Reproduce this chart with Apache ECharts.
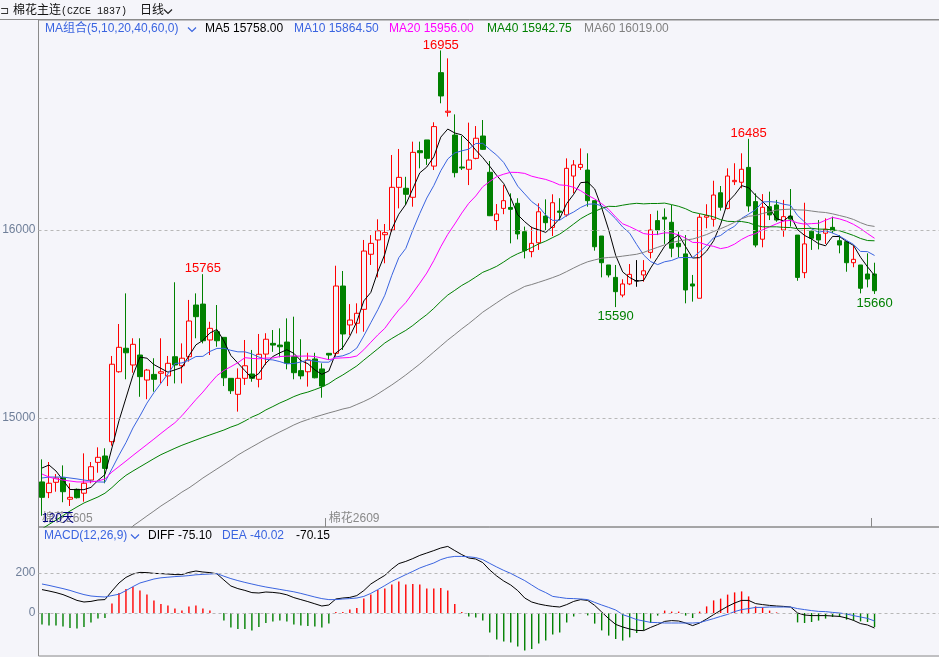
<!DOCTYPE html>
<html>
<head>
<meta charset="utf-8">
<script src="https://cdn.jsdelivr.net/npm/echarts/dist/echarts.min.js"></script>
<style>
html,body{margin:0;padding:0;background:#f5f5fa;}
#c{width:939px;height:657px;}
</style>
</head>
<body>
<div id="c"></div>
<script>
// ---------- DATA ----------
const opens = [14660,14603,14658,14682,14568,14621,14600,14670,14764,14798,
 14874,15246,15371,15282,15335,15202,15232,15238,15224,15326,
 15278,15326,15601,15606,15415,15459,15429,15211,15126,15211,
 15234,15206,15340,15397,15388,15404,15326,15252,15246,15314,
 15261,15344,15344,15702,15495,15504,15578,15871,15947,15975,
 16000,16227,16222,16174,16422,16479,16340,16837,16626,16505,
 16335,16323,16381,16500,16307,16050,16115,16120,16142,15991,
 15885,15932,16074,16014,16101,16080,16287,16333,16319,16156,
 15968,15814,15748,15654,15713,15730,15761,15881,16050,16068,
 16041,15929,15873,15713,15637,16068,16057,16198,16115,16257,
 16254,16333,16151,15951,16124,16133,16000,16074,15973,15773,
 15994,15977,15983,16014,15943,15938,15826,15814,15766,15766];
const closes = [14578,14653,14681,14608,14578,14576,14653,14741,14791,14732,
 15286,15376,15347,15392,15220,15255,15206,15246,15291,15282,
 15318,15516,15539,15411,15477,15411,15214,15145,15211,15278,
 15211,15339,15419,15388,15379,15291,15241,15224,15309,15214,
 15170,15335,15702,15447,15521,15557,15888,15929,15996,15986,
 16227,16280,16190,16413,16411,16381,16550,16713,16632,16305,
 16330,16372,16488,16429,16076,16085,16156,16110,15979,15890,
 15929,16097,16039,16145,16094,16328,16346,16349,16156,15911,
 15826,15761,15672,15713,15764,15730,15783,16000,16000,16058,
 15903,15911,15681,15702,16068,16076,16186,16121,16287,16264,
 16323,16128,15920,16121,16080,16053,16071,16058,15748,15926,
 15956,15947,16004,15996,15920,15826,15844,15690,15739,15677];
const lows = [14480,14574,14608,14552,14532,14572,14555,14653,14709,14653,
 14853,15241,15206,15241,15113,15100,15140,15184,15170,15184,
 15184,15300,15424,15397,15335,15379,15170,15128,15034,15176,
 15193,15163,15282,15352,15323,15259,15206,15206,15167,15211,
 15108,15309,15326,15362,15441,15450,15459,15814,15748,15823,
 15991,16115,16133,16124,16328,16346,16319,16674,16603,16280,
 16319,16239,16376,16426,16074,15996,16084,15929,15950,15849,
 15855,15894,16000,15968,16053,16071,16195,16319,16124,15890,
 15748,15748,15590,15642,15707,15698,15725,15849,15973,15926,
 15855,15855,15610,15619,15637,16009,16018,16103,16110,16239,
 16222,16097,15908,15908,16053,16044,15964,16018,15730,15744,
 15894,15897,15926,15983,15876,15778,15802,15663,15695,15660];
const highs = [14780,14766,14702,14748,14653,14625,14812,14766,14844,14839,
 15330,15500,15663,15424,15424,15261,15318,15424,15330,15722,
 15397,15628,15663,15765,15512,15601,15429,15211,15264,15415,
 15362,15447,15451,15468,15477,15530,15539,15419,15347,15347,
 15291,15346,15810,15782,15606,15610,15947,15973,16057,16032,
 16399,16431,16283,16470,16470,16479,16573,16955,16913,16615,
 16500,16571,16553,16585,16367,16138,16239,16195,16169,16018,
 16018,16142,16163,16190,16169,16381,16372,16434,16408,16156,
 15968,15814,15814,15738,15819,15840,15840,16085,16103,16115,
 16133,15991,15973,15761,16085,16137,16262,16234,16328,16355,
 16408,16485,16195,16191,16204,16160,16160,16218,15973,16145,
 15996,16053,16062,16071,15973,15938,15915,15814,15876,15826];

const ma5 = [14734,14750,14718,14670,14620,14619,14619,14631,14668,14699,
 14841,14985,15106,15227,15324,15318,15284,15264,15244,15256,
 15269,15331,15389,15413,15452,15471,15410,15332,15292,15252,
 15212,15237,15292,15327,15347,15363,15344,15305,15289,15256,
 15232,15250,15346,15374,15435,15512,15623,15668,15778,15871,
 16005,16084,16136,16219,16304,16335,16389,16494,16537,16516,
 16506,16470,16425,16385,16339,16290,16247,16171,16081,16044,
 16013,16001,15987,16020,16061,16141,16190,16252,16255,16218,
 16118,16001,15865,15777,15747,15728,15732,15798,15855,15914,
 15949,15974,15911,15851,15853,15888,15943,16031,16148,16187,
 16236,16225,16184,16151,16114,16060,16049,16077,16002,15971,
 15952,15927,15916,15966,15965,15939,15918,15855,15804,15758];
const ma10 = [14681,14686,14686,14686,14681,14676,14670,14665,14660,14659,
 14730,14802,14869,14947,15011,15079,15135,15185,15235,15290,
 15293,15307,15327,15328,15354,15370,15371,15360,15352,15352,
 15341,15324,15312,15309,15300,15288,15290,15298,15308,15302,
 15297,15297,15325,15331,15345,15372,15437,15507,15576,15653,
 15759,15853,15902,15999,16088,16170,16236,16315,16378,16410,
 16421,16430,16460,16461,16428,16398,16359,16298,16233,16192,
 16151,16124,16079,16051,16052,16077,16096,16120,16137,16139,
 16129,16096,16059,16016,15983,15923,15867,15832,15816,15831,
 15838,15853,15854,15853,15884,15918,15959,15971,15999,16020,
 16062,16084,16108,16149,16151,16148,16137,16131,16077,16043,
 16006,15988,15996,15984,15968,15945,15923,15886,15885,15864.5];
const ma20 = [14702,14686,14676,14670,14665,14660,14660,14660,14665,14676,
 14713,14742,14771,14801,14830,14859,14888,14918,14947,14975,
 15012,15055,15098,15138,15183,15225,15253,15273,15294,15321,
 15317,15315,15319,15319,15327,15329,15330,15329,15330,15327,
 15319,15310,15318,15320,15322,15330,15363,15403,15442,15477,
 15528,15575,15614,15665,15717,15771,15837,15911,15977,16032,
 16090,16142,16181,16230,16258,16284,16297,16307,16306,16301,
 16286,16277,16269,16256,16240,16237,16227,16209,16185,16165,
 16140,16110,16069,16033,16018,16000,15981,15976,15977,15985,
 15984,15974,15957,15934,15933,15921,15913,15901,15908,15925,
 15950,15969,15981,16001,16017,16033,16048,16051,16038,16031,
 16034,16036,16052,16067,16059,16047,16030,16008,15981,15956];
const ma40 = [14410,14434,14457,14481,14505,14527,14548,14564,14580,14600,
 14630,14665,14695,14718,14740,14762,14784,14805,14822,14839,
 14855,14869,14883,14897,14910,14923,14936,14952,14965,14984,
 15005,15021,15043,15061,15080,15096,15114,15128,15138,15151,
 15165,15183,15208,15229,15253,15277,15308,15338,15368,15399,
 15423,15445,15466,15492,15522,15550,15583,15620,15654,15679,
 15705,15726,15750,15775,15790,15807,15830,15855,15874,15889,
 15907,15926,15941,15960,15978,16004,16032,16060,16081,16099,
 16115,16126,16125,16132,16138,16142,16139,16141,16141,16143,
 16135,16126,16113,16095,16087,16079,16070,16055,16046,16045,
 16045,16039,16025,16017,16017,16017,16014,16013,16007,16008,
 16009,16005,16004,16001,15996,15984,15971,15955,15944,15942.75];
const ma60 = ['-','-','-','-','-','-','-','-','-','-',
 '-','-',14383,14426,14452,14479,14505,14532,14556,14580,
 14606,14628,14654,14681,14705,14729,14753,14777,14803,14825,
 14846,14867,14888,14907,14926,14944,14963,14979,14992,15005,
 15016,15027,15037,15048,15056,15072,15088,15106,15128,15152,
 15176,15202,15229,15258,15287,15319,15351,15383,15415,15444,
 15474,15502,15532,15563,15588,15613,15638,15661,15680,15700,
 15710,15722,15734,15747,15761,15779,15798,15816,15831,15841,
 15850,15854,15856,15861,15866,15871,15881,15895,15908,15921,
 15933,15942,15947,15952,15963,15976,15992,16007,16023,16041,
 16060,16073,16077,16088,16097,16106,16109,16111,16107,16106,
 16101,16096,16093,16086,16077,16068,16056,16039,16025,16019];

const diff = [117,110,102,92,78,63,55,58,65,67,
 110,150,178,195,203,202,198,197,195,192,
 192,203,210,205,202,196,165,135,122,113,
 102,100,105,103,99,91,77,67,57,46,
 35,40,70,75,78,87,112,145,167,188,
 220,247,258,272,288,300,312,325,333,312,
 292,275,270,252,215,185,160,140,112,75,
 55,45,38,33,30,42,58,67,63,38,
 5,-28,-57,-70,-80,-87,-88,-72,-58,-42,
 -38,-40,-50,-63,-50,-30,-8,13,33,50,
 63,63,47,42,38,35,33,30,0,-10,
 -13,-13,-13,-15,-17,-25,-37,-53,-60,-75.10];
const dea = [145,138,130,122,113,102,92,85,82,80,
 87,94,112,132,150,160,170,176,179,182,
 184,187,191,193,195,197,184,172,162,153,
 145,137,130,124,118,112,106,98,89,80,
 72,67,67,70,72,75,83,98,117,137,
 158,175,192,208,225,238,250,267,278,283,
 283,281,277,267,248,230,213,198,180,162,
 140,118,102,83,78,73,72,70,67,53,
 40,28,15,-8,-20,-33,-40,-47,-48,-50,
 -50,-50,-50,-50,-48,-38,-28,-17,-7,7,
 17,22,28,28,30,30,30,30,22,17,
 12,8,7,3,0,-5,-13,-20,-27,-40.02];
const macdHist = [-58,-63,-63,-67,-75,-78,-70,-47,-28,-25,
 47,100,120,130,112,92,62,45,37,22,
 12,32,37,22,12,0,-37,-72,-80,-80,
 -87,-70,-50,-42,-37,-42,-58,-62,-65,-67,
 -72,-53,5,5,17,25,72,92,115,123,
 142,158,142,145,142,122,122,125,112,45,
 5,-17,-22,-38,-97,-133,-142,-147,-167,-187,
 -180,-153,-137,-108,-97,-47,-17,0,-12,-53,
 -87,-113,-130,-138,-122,-100,-87,-50,-13,12,
 7,7,-13,-25,7,33,63,72,92,103,
 108,83,33,28,12,3,0,-5,-47,-50,
 -45,-38,-28,-20,-20,-33,-38,-42,-45,-70.15];

const priceTicks = [15000, 16000];
const macdTicks = [0, 200];
const contractLabels = {0: '棉花2605', 41: '棉花2609'};
const markerTicks = [41, 119];
const markIdx  = [23, 57, 101, 82, 119];
const markVal  = [15765, 16955, 16485, 15590, 15660];
const markSide = ['top', 'top', 'top', 'bottom', 'bottom'];

// ---------- CHART ----------
const days = opens.map((_, i) => 'D' + (i + 1));
const FONT = '"Liberation Sans","Noto Sans CJK SC",sans-serif';
const BG = '#f5f5fa';
const RED = '#ff0000', GREEN = '#008000', BLUE = '#3a64e0', MAG = '#ff00ff', GRAY = '#808080';
const candles = opens.map((o, i) => [o, closes[i], lows[i], highs[i]]);

function txt(text, x, y, color, size, family) {
  return {type: 'text', x: x, y: y, silent: true, z: 100,
    style: {text: text, fill: color, font: size + 'px ' + (family || FONT),
      verticalAlign: 'middle', textVerticalAlign: 'middle', align: 'left'}};
}
function chevron(x, y, color) {
  return {type: 'polyline', silent: true, z: 100,
    shape: {points: [[x, y - 2.5], [x + 4, y + 1.5], [x + 8, y - 2.5]]},
    style: {stroke: color, lineWidth: 1.2, fill: null}};
}
const f2 = v => Number(v).toFixed(2);
const lineS = (name, data, color) => ({
  name: name, type: 'line', xAxisIndex: 0, yAxisIndex: 0, data: data,
  symbol: 'none', silent: true, z: 3, lineStyle: {color: color, width: 1}, itemStyle: {color: color}
});

const chart = echarts.init(document.getElementById('c'));
chart.setOption({
  backgroundColor: BG,
  animation: false,
  grid: [
    {left: 38.5, right: -2, top: 20, height: 507, show: true, borderColor: '#8a8a8a', borderWidth: 1,
      backgroundColor: 'transparent', containLabel: false, outerBoundsMode: 'none'},
    {left: 38.5, right: -2, top: 527, height: 129, show: true, borderColor: '#8a8a8a', borderWidth: 1,
      backgroundColor: 'transparent', containLabel: false, outerBoundsMode: 'none'}
  ],
  xAxis: [
    {type: 'category', gridIndex: 0, data: days, max: 128, boundaryGap: true,
      axisLine: {show: false},
      axisTick: {show: true, inside: true, length: 9, interval: (i) => markerTicks.includes(i),
        lineStyle: {color: '#888'}},
      axisLabel: {show: true, inside: true, margin: 2, align: 'left', color: '#8a8a8a', fontSize: 12,
        fontFamily: FONT, interval: (i) => (i in contractLabels),
        formatter: (v, i) => contractLabels[i] || ''},
      splitLine: {show: false}},
    {type: 'category', gridIndex: 1, data: days, max: 128, boundaryGap: true,
      axisLine: {show: false},
      axisTick: {show: true, inside: true, length: 9, interval: (i) => i === 119,
        lineStyle: {color: '#888'}},
      axisLabel: {show: false}, splitLine: {show: false}}
  ],
  yAxis: [
    {type: 'value', gridIndex: 0, min: 14420.3, max: 17117,
      axisLine: {show: false}, axisTick: {show: false}, splitLine: {show: false},
      axisLabel: {color: '#6f7f99', fontSize: 12, fontFamily: FONT, margin: 3,
        formatter: v => priceTicks.includes(v) ? String(v) : ''}},
    {type: 'value', gridIndex: 1, min: -215, max: 430,
      axisLine: {show: false}, axisTick: {show: false}, splitLine: {show: false},
      axisLabel: {color: '#6f7f99', fontSize: 12, fontFamily: FONT, margin: 3,
        formatter: v => macdTicks.includes(v) ? String(v) : ''}}
  ],
  series: [
    {name: 'K', type: 'candlestick', xAxisIndex: 0, yAxisIndex: 0, data: candles,
      barWidth: 5, silent: true, z: 2,
      itemStyle: {color: BG, color0: GREEN, borderColor: RED, borderColor0: GREEN,
        borderColorDoji: '#000000', borderWidth: 1},
      markLine: {silent: true, symbol: ['none', 'none'], label: {show: false}, animation: false,
        lineStyle: {color: '#b8b8b8', type: [3, 3], width: 1},
        data: priceTicks.map(v => ({yAxis: v}))},
      markPoint: {symbol: 'circle', symbolSize: 0, silent: true, animation: false,
        data: markIdx.map((ix, k) => ({
          coord: [ix, markVal[k]], value: markVal[k],
          label: {show: true, position: markSide[k], distance: markSide[k] === 'top' ? -1 : 3,
            color: markSide[k] === 'top' ? RED : GREEN, fontSize: 13, fontFamily: FONT,
            formatter: String(markVal[k])}
        }))}
    },
    lineS('MA5', ma5, '#000000'),
    lineS('MA10', ma10, BLUE),
    lineS('MA20', ma20, MAG),
    lineS('MA40', ma40, GREEN),
    lineS('MA60', ma60, GRAY),
    {name: 'MACD', type: 'bar', xAxisIndex: 1, yAxisIndex: 1, data: macdHist, barWidth: 1.4, silent: true,
      itemStyle: {color: p => (p.value >= 0 ? RED : GREEN)},
      markLine: {silent: true, symbol: ['none', 'none'], label: {show: false}, animation: false,
        lineStyle: {color: '#b8b8b8', type: [3, 3], width: 1},
        data: macdTicks.map(v => ({yAxis: v}))}},
    {name: 'DIFF', type: 'line', xAxisIndex: 1, yAxisIndex: 1, data: diff, symbol: 'none', silent: true,
      lineStyle: {color: '#000000', width: 1}},
    {name: 'DEA', type: 'line', xAxisIndex: 1, yAxisIndex: 1, data: dea, symbol: 'none', silent: true,
      lineStyle: {color: BLUE, width: 1}}
  ],
  graphic: [
    {type: 'line', silent: true, z: 99, shape: {x1: 0, y1: 19.5, x2: 939, y2: 19.5},
      style: {stroke: '#8a8a8a', lineWidth: 1}},
    txt('⊐', 0, 11, '#333', 11),
    txt('棉花主连', 13, 11, '#111', 12),
    txt('(CZCE 1837)', 61, 11, '#111', 10, '"Liberation Mono",monospace'),
    txt('日线', 140, 11, '#111', 12),
    chevron(164, 12, '#222'),
    txt('MA组合(5,10,20,40,60,0)', 45, 29, BLUE, 12),
    chevron(188, 30, BLUE),
    txt('MA5 ' + f2(ma5[ma5.length - 1]), 205, 29, '#000', 12),
    txt('MA10 ' + f2(ma10[ma10.length - 1]), 294, 29, BLUE, 12),
    txt('MA20 ' + f2(ma20[ma20.length - 1]), 389, 29, MAG, 12),
    txt('MA40 ' + f2(ma40[ma40.length - 1]), 487, 29, GREEN, 12),
    txt('MA60 ' + f2(ma60[ma60.length - 1]), 584, 29, GRAY, 12),
    txt('120天', 42, 519, '#000080', 12),
    txt('MACD(12,26,9)', 44, 536, BLUE, 12),
    chevron(131, 537, BLUE),
    txt('DIFF ' + f2(diff[diff.length - 1]), 148, 536, '#000', 12),
    txt('DEA ' + f2(dea[dea.length - 1]), 222, 536, BLUE, 12),
    txt(f2(macdHist[macdHist.length - 1]), 296, 536, '#000', 12)
  ]
});
</script>
</body>
</html>
